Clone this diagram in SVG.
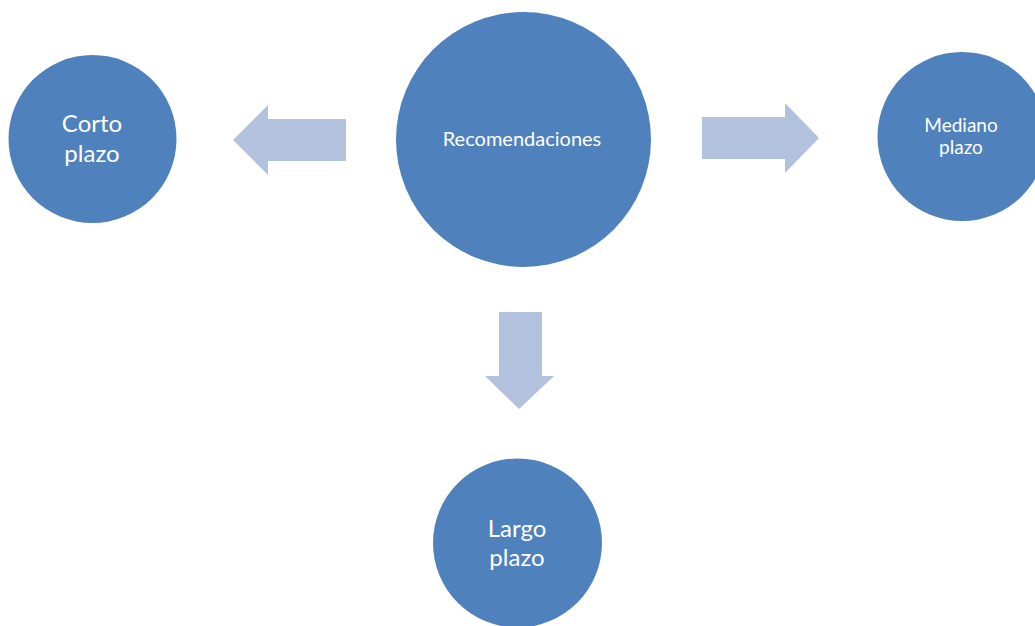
<svg xmlns="http://www.w3.org/2000/svg" width="1035" height="626" viewBox="0 0 1035 626">
<style>
.node{fill:#4F81BD}
.arrow{fill:#B1C1DE}
text{fill:#FFFFFF;font-family:Lato,"Open Sans",sans-serif;text-anchor:middle}
</style>
<rect width="1035" height="626" fill="#FFFFFF"/>
<g id="connectors">
<polygon class="arrow" points="346,119 268,119 268,105 233,140 268,175 268,161 346,161"/>
<polygon class="arrow" points="702,117 785,117 785,103 819,138 785,173 785,159 702,159"/>
<polygon class="arrow" points="499,312 542,312 542,376 554,376 519,409 485,376 499,376"/>
</g>
<g id="recomendaciones">
<circle class="node" cx="523.5" cy="139.5" r="127.5"/>
<text x="522" y="146" font-size="20">Recomendaciones</text>
</g>
<g id="corto">
<circle class="node" cx="92.5" cy="139" r="84"/>
<text x="92" y="132" font-size="24">Corto</text>
<text x="92" y="162" font-size="24">plazo</text>
</g>
<g id="mediano">
<circle class="node" cx="962" cy="136.5" r="84.5"/>
<text x="961" y="132" font-size="19">Mediano</text>
<text x="961" y="154" font-size="19">plazo</text>
</g>
<g id="largo">
<circle class="node" cx="517.5" cy="543" r="84.5"/>
<text x="517" y="537" font-size="24">Largo</text>
<text x="517" y="566" font-size="24">plazo</text>
</g>
</svg>
